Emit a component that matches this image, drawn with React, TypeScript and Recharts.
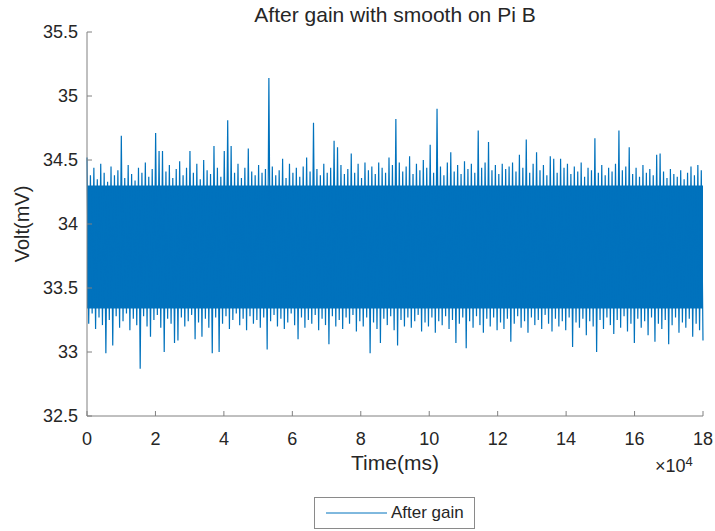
import { LineChart, Line, XAxis, YAxis, Legend, ReferenceArea } from "recharts";

// upper and lower edge of the noise band, one pair per 1000 ms
const highs = [
  34.52, 34.38, 34.44, 34.35, 34.47, 34.4, 34.33, 34.45, 34.38, 34.42,
  34.69, 34.36, 34.46, 34.39, 34.34, 34.44, 34.4, 34.48, 34.37, 34.43,
  34.71, 34.57, 34.57, 34.41, 34.46, 34.36, 34.43, 34.49, 34.38, 34.44,
  34.57, 34.4, 34.47, 34.35, 34.5, 34.42, 34.39, 34.61, 34.44, 34.37,
  34.57, 34.81, 34.61, 34.4, 34.47, 34.36, 34.44, 34.59, 34.41, 34.38,
  34.46, 34.4, 34.43, 35.14, 34.45, 34.38, 34.42, 34.51, 34.36, 34.47,
  34.4, 34.44, 34.37, 34.45, 34.52, 34.41, 34.79, 34.43, 34.38, 34.47,
  34.4, 34.44, 34.65, 34.6, 34.46, 34.39, 34.43, 34.55, 34.4, 34.47,
  34.36, 34.48, 34.42, 34.45, 34.39, 34.48, 34.44, 34.4, 34.52, 34.46,
  34.82, 34.48, 34.41, 34.45, 34.53, 34.39, 34.47, 34.42, 34.5, 34.44,
  34.62, 34.4, 34.9, 34.45, 34.38, 34.48, 34.56, 34.41, 34.46, 34.39,
  34.49, 34.43, 34.47, 34.4, 34.73, 34.44, 34.48, 34.64, 34.42, 34.46,
  34.39, 34.47, 34.43, 34.45, 34.48, 34.41, 34.54, 34.44, 34.66, 34.4,
  34.47, 34.56, 34.42, 34.46, 34.38, 34.53, 34.51, 34.4, 34.51, 34.44,
  34.47, 34.39, 34.45, 34.41, 34.48, 34.37, 34.44, 34.42, 34.67, 34.4,
  34.46, 34.38, 34.44, 34.41, 34.47, 34.73, 34.42, 34.45, 34.6, 34.39,
  34.44, 34.37, 34.46, 34.4, 34.43, 34.38, 34.54, 34.55, 34.41, 34.36,
  34.43, 34.39, 34.37, 34.42, 34.35, 34.4, 34.45, 34.38, 34.46, 34.42,
];

const lows = [
  33.22, 33.3, 33.18, 33.27, 33.21, 32.99, 33.25, 33.05, 33.28, 33.19,
  33.24, 33.3, 33.17, 33.26, 33.21, 32.87, 33.28, 33.2, 33.12, 33.25,
  33.29, 33.19, 33.0, 33.26, 33.22, 33.07, 33.09, 33.27, 33.2, 33.24,
  33.29, 33.1, 33.23, 33.12, 33.26, 33.19, 32.99, 33.27, 33.0, 33.22,
  33.28, 33.18, 33.25, 33.3, 33.21, 33.26, 33.17, 33.28, 33.22, 33.25,
  33.19, 33.27, 33.02, 33.24, 33.29, 33.2, 33.26, 33.18, 33.23, 33.3,
  33.21, 33.1, 33.27, 33.19, 33.25, 33.22, 33.29, 33.17, 33.26, 33.21,
  33.06, 33.28, 33.2, 33.25, 33.18, 33.27, 33.22, 33.29, 33.16, 33.24,
  33.2, 33.27, 32.99, 33.23, 33.18, 33.07, 33.26, 33.21, 33.28, 33.17,
  33.05, 33.25, 33.2, 33.27, 33.19, 33.24, 33.29, 33.16, 33.23, 33.2,
  33.27, 33.15, 33.24, 33.21, 33.28, 33.18, 33.25, 33.07, 33.22, 33.27,
  33.03, 33.24, 33.19, 33.28, 33.21, 33.15, 33.26, 33.2, 33.27, 33.17,
  33.23, 33.18, 33.26, 33.08, 33.22, 33.28, 33.19, 33.24, 33.15, 33.27,
  33.21, 33.25, 33.18, 33.29, 33.22, 33.16, 33.26, 33.2, 33.24, 33.17,
  33.27, 33.04, 33.23, 33.19, 33.26, 33.13, 33.24, 33.2, 33.0, 33.25,
  33.18, 33.27, 33.21, 33.14, 33.25, 33.19, 33.28, 33.16, 33.22, 33.07,
  33.26, 33.19, 33.24, 33.13, 33.27, 33.08, 33.22, 33.18, 33.25, 33.06,
  33.21, 33.27, 33.15, 33.23, 33.19, 33.26, 33.12, 33.22, 33.17, 33.09,
];

// the solid core of the band, where the trace fills every pixel
const coreTop = 34.3;
const coreBottom = 33.34;

const xTicks = [0, 20000, 40000, 60000, 80000, 100000, 120000, 140000, 160000, 180000];
const yTicks = [32.5, 33, 33.5, 34, 34.5, 35, 35.5];

const T_END = 180000;
const nPts = highs.length * 2;
const data = highs.flatMap((h, i) => [
  { t: ((2 * i) * T_END) / (nPts - 1), v: h },
  { t: ((2 * i + 1) * T_END) / (nPts - 1), v: lows[i] },
]);

const BLUE = "#0072BD";
const AXIS = "#808080";
const TXT = "#262626";
const FONT = "'Liberation Sans', Arial, sans-serif";
const TICK_LEN = 5;
const X_GAP = 16;
const Y_GAP = 9;

const BottomTick = (p: any) => {
  const axisY = p.y - X_GAP;
  return (
    <g>
      <line x1={p.x} x2={p.x} y1={axisY} y2={axisY - TICK_LEN} stroke={AXIS} />
      <text x={p.x} y={p.y} dy="0.72em" textAnchor="middle" fontSize={18} fill={TXT} fontFamily={FONT}>
        {p.payload.value / 10000}
      </text>
    </g>
  );
};

const TopTick = (p: any) => (
  <line x1={p.x} x2={p.x} y1={p.y} y2={p.y + TICK_LEN} stroke={AXIS} />
);

const LeftTick = (p: any) => {
  const axisX = p.x + Y_GAP;
  return (
    <g>
      <line x1={axisX} x2={axisX + TICK_LEN} y1={p.y} y2={p.y} stroke={AXIS} />
      <text x={p.x} y={p.y} dy="0.36em" textAnchor="end" fontSize={18} fill={TXT} fontFamily={FONT}>
        {String(p.payload.value)}
      </text>
    </g>
  );
};

const RightTick = (p: any) => (
  <line x1={p.x} x2={p.x - TICK_LEN} y1={p.y} y2={p.y} stroke={AXIS} />
);

const LegendBox = () => (
  <div
    style={{
      boxSizing: "border-box",
      width: 161,
      height: 32,
      border: "1px solid #8a8a8a",
      background: "#fff",
      display: "flex",
      alignItems: "center",
      fontFamily: FONT,
      fontSize: 17,
      color: TXT,
    }}
  >
    <svg width={76} height={10}>
      <line x1={11} x2={72} y1={5} y2={5} stroke={BLUE} strokeWidth={1} />
    </svg>
    <span>After gain</span>
  </div>
);

export default function App() {
  return (
    <div style={{ position: "absolute", left: 0, top: 0, width: 715, height: 531, background: "#fff" }}>
      <div
        style={{
          position: "absolute",
          left: 87,
          width: 616,
          top: 4,
          textAlign: "center",
          fontFamily: FONT,
          fontSize: 21,
          lineHeight: "21px",
          color: TXT,
        }}
      >
        After gain with smooth on Pi B
      </div>
      <div
        style={{
          position: "absolute",
          left: 655,
          top: 453,
          fontFamily: FONT,
          fontSize: 18,
          lineHeight: "18px",
          color: TXT,
          zIndex: 2,
        }}
      >
        ×10<sup style={{ fontSize: 13, verticalAlign: "6px" }}>4</sup>
      </div>
      <LineChart width={715} height={531} data={data} margin={{ top: 32, right: 12, left: 17, bottom: 85 }}>
        <XAxis
          dataKey="t"
          type="number"
          domain={[0, T_END]}
          ticks={xTicks}
          height={30}
          tickSize={0}
          tickMargin={X_GAP}
          stroke={AXIS}
          tick={BottomTick}
          interval={0}
          label={{ value: "Time(ms)", position: "bottom", offset: 9, style: { fontSize: 21, fill: TXT, fontFamily: FONT } }}
        />
        <XAxis
          xAxisId="top"
          orientation="top"
          dataKey="t"
          type="number"
          domain={[0, T_END]}
          ticks={xTicks}
          height={0}
          tickSize={0}
          tickMargin={0}
          stroke={AXIS}
          tick={TopTick}
          interval={0}
        />
        <YAxis
          domain={[32.5, 35.5]}
          ticks={yTicks}
          width={70}
          tickSize={0}
          tickMargin={Y_GAP}
          stroke={AXIS}
          tick={LeftTick}
          interval={0}
          label={{
            value: "Volt(mV)",
            angle: -90,
            position: "insideLeft",
            offset: 5,
            style: { textAnchor: "middle", fontSize: 20, fill: TXT, fontFamily: FONT },
          }}
        />
        <YAxis
          yAxisId="right"
          orientation="right"
          domain={[32.5, 35.5]}
          ticks={yTicks}
          width={0}
          tickSize={0}
          tickMargin={0}
          stroke={AXIS}
          tick={RightTick}
          interval={0}
        />
        <Legend
          layout="horizontal"
          verticalAlign="middle"
          align="center"
          content={LegendBox}
          wrapperStyle={{ left: 314, top: 497, width: 161, height: 32 }}
        />
        <ReferenceArea
          x1={0}
          x2={T_END}
          y1={coreBottom}
          y2={coreTop}
          fill={BLUE}
          fillOpacity={1}
          stroke="none"
        />
        <Line
          type="linear"
          dataKey="v"
          stroke={BLUE}
          strokeWidth={1.2}
          dot={false}
          isAnimationActive={false}
          name="After gain"
        />
      </LineChart>
    </div>
  );
}
